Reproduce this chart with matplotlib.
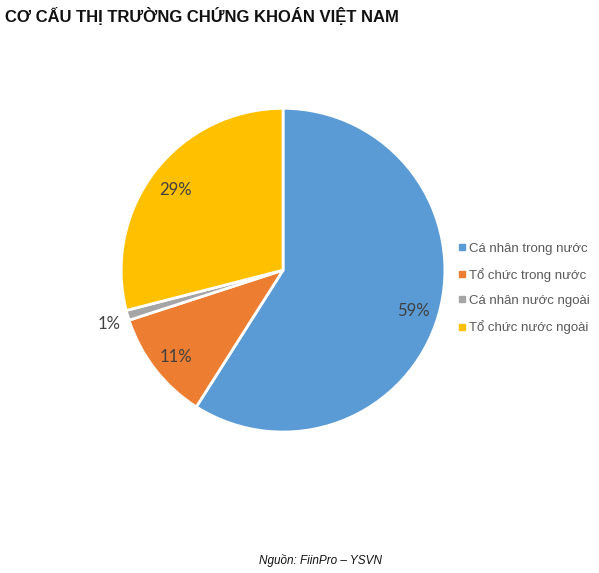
import numpy as np
import matplotlib.pyplot as plt
from matplotlib.lines import Line2D

labels = ["Cá nhân trong nước", "Tổ chức trong nước", "Cá nhân nước ngoài", "Tổ chức nước ngoài"]
shares = [59, 11, 1, 29]
colors = ["#5B9BD5", "#ED7D31", "#A5A5A5", "#FFC000"]

plt.rcParams['font.family'] = ['Liberation Sans', 'DejaVu Sans']

fig = plt.figure(figsize=(5.99, 5.73), dpi=100)
ax = fig.add_axes([0.202, 0.246, 0.541, 0.565])

wedges, texts = ax.pie(shares, colors=colors, startangle=90, counterclock=False,
                       wedgeprops=dict(edgecolor='white', linewidth=2))
ax.set_xlim(-1, 1)
ax.set_ylim(-1, 1)
ax.set_aspect('equal')

# percentage labels
ang = 90
for w, v in zip(wedges, shares):
    mid = ang - v * 3.6 / 2
    ang -= v * 3.6
    r = 1.12 if v < 3 else 0.84
    ax.text(r * np.cos(np.radians(mid)), r * np.sin(np.radians(mid)) - 0.02, f"{v}%",
            ha='center', va='center', fontsize=12, color='#404040',
            family=['Lato', 'DejaVu Sans'])

fig.text(0.008, 0.972, "CƠ CẤU THỊ TRƯỜNG CHỨNG KHOÁN VIỆT NAM",
         fontsize=12, fontweight='bold', color='#111111', ha='left', va='center')

handles = [Line2D([], [], marker='s', linestyle='none', markersize=5,
                  markerfacecolor=c, markeredgecolor=c) for c in colors]
fig.legend(handles, labels, loc='center left', bbox_to_anchor=(0.741, 0.497),
           frameon=False, fontsize=9.5, labelcolor='#595959', handletextpad=0.0,
           handlelength=1.0, labelspacing=1.0)

fig.text(0.535, 0.022, "Nguồn: FiinPro – YSVN", fontsize=8.5, style='italic',
         ha='center', va='center', color='#111111')

fig.savefig("out.png", dpi=100, facecolor='white')
